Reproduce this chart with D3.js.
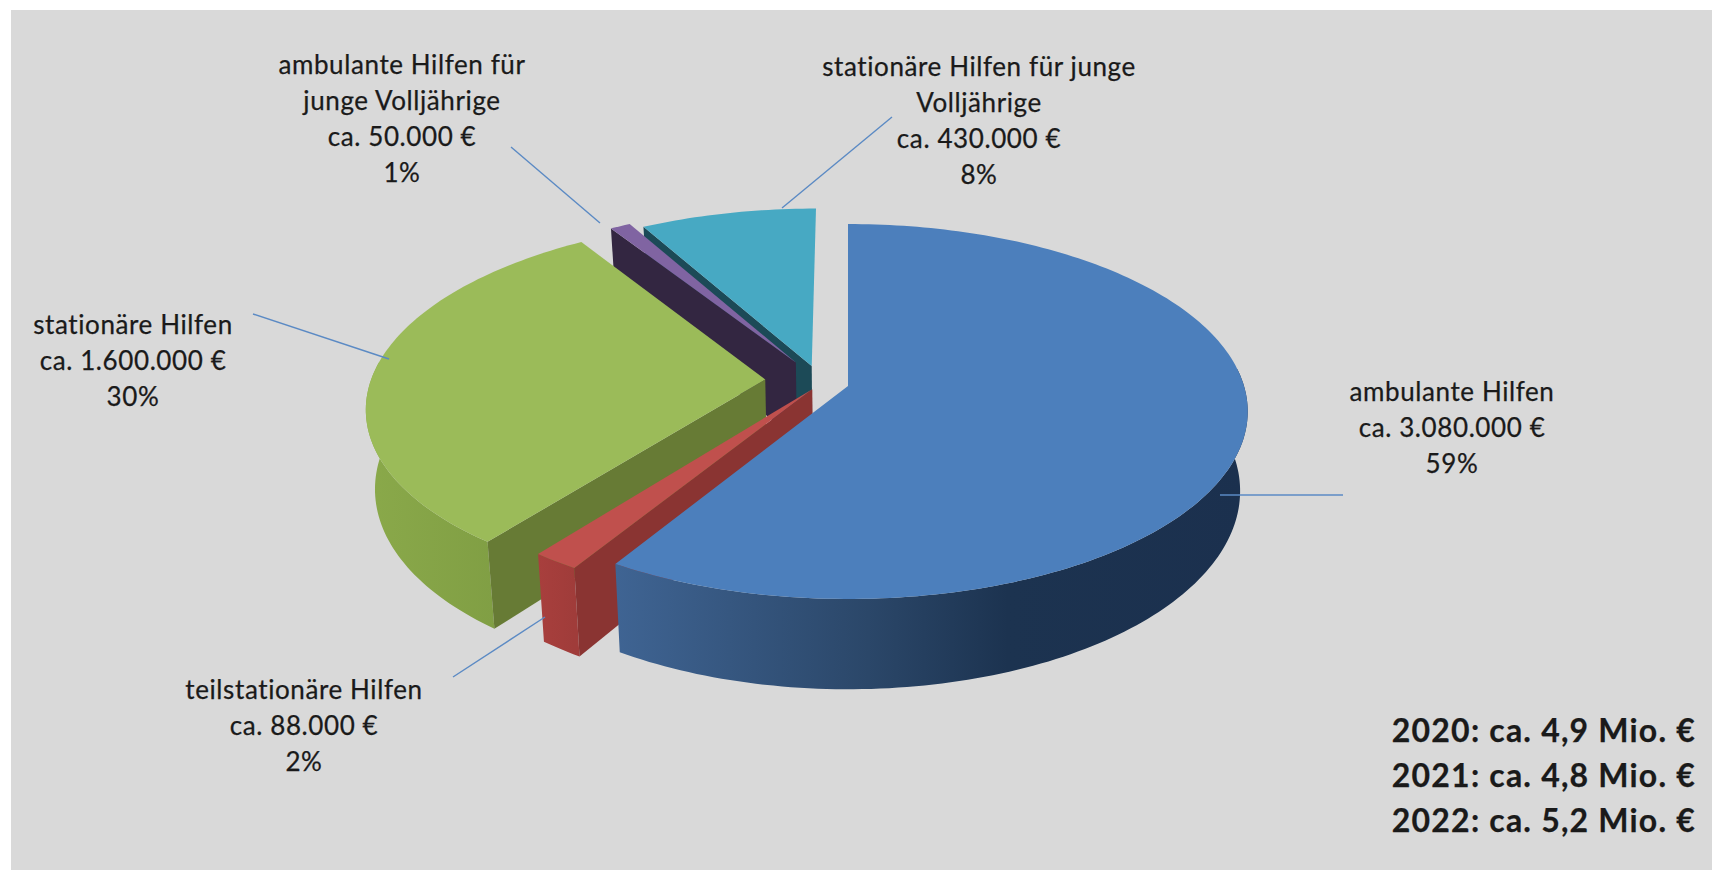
<!DOCTYPE html>
<html lang="de">
<head>
<meta charset="utf-8">
<title>Hilfen 2022</title>
<script src="https://cdn.jsdelivr.net/npm/d3@7/dist/d3.min.js"></script>
<style>
  html, body { margin: 0; padding: 0; background: #fff; }
  svg { display: block; }
  text { font-family: Lato, "Open Sans", sans-serif; fill: #1a1a1a; stroke: #1a1a1a; stroke-width: 0.25px; }
</style>
</head>
<body>
<svg id="chart" width="1712" height="870"></svg>
<script>
// Chart data
const categories = [
  "ambulante Hilfen",
  "teilstationäre Hilfen",
  "stationäre Hilfen",
  "ambulante Hilfen für junge Volljährige",
  "stationäre Hilfen für junge Volljährige"
];
const amounts = [3080000, 88000, 1600000, 50000, 430000];
const amountLabels = ["ca. 3.080.000 €", "ca. 88.000 €", "ca. 1.600.000 €", "ca. 50.000 €", "ca. 430.000 €"];
const shareLabels = ["59%", "2%", "30%", "1%", "8%"];
const categoryLines = [
  ["ambulante Hilfen"],
  ["teilstationäre Hilfen"],
  ["stationäre Hilfen"],
  ["ambulante Hilfen für", "junge Volljährige"],
  ["stationäre Hilfen für junge", "Volljährige"]
];
const yearTotals = ["2020: ca. 4,9 Mio. €", "2021: ca. 4,8 Mio. €", "2022: ca. 5,2 Mio. €"];

// Slice styling
const topColors  = ["#4c7fbc", "#c0504d", "#9bbb59", "#8064a2", "#47a9c3"];
const cutColors  = ["#1c3350", "#8a3432", "#677b35", "#332641", "#1c4a57"];
const rimStops   = [
  [[0, "#3f6493"], [0.4, "#2b4769"], [0.62, "#1c3350"], [1, "#1b304e"]],
  [[0, "#a83f3d"], [1, "#a03c3a"]],
  [[0, "#8aa94a"], [1, "#7a9840"]],
  [[0, "#332641"], [1, "#332641"]],
  [[0, "#1c4a57"], [1, "#1c4a57"]]
];

// Per-slice displacement on the pie's ground plane, in radii
const sliceShift = [[0, 0], [-0.09, 0.017], [-0.21, -0.036], [-0.134, -0.13], [-0.093, -0.11]];

// Camera for the tilted disc: plane (u, v) in radii to screen pixels
const cam = { x: 848, y: 386, fx: 396, fy: 184, k: 0.136, depth: 78, taper: 0.019 };
const topPoint = ([u, v]) => {
  const w = 1 - cam.k * v;
  return [cam.x + cam.fx * u / w, cam.y + cam.fy * v / w];
};
const basePoint = ([u, v]) => {
  const [x, y] = topPoint([u, v]);
  const w = 1 - cam.k * v;
  return [cam.x + (x - cam.x) * (1 - cam.taper), y + cam.depth / w];
};

const svg = d3.select("#chart");
svg.append("rect").attr("x", 11).attr("y", 10).attr("width", 1701).attr("height", 860).attr("fill", "#d9d9d9");

const defs = svg.append("defs");
const path = d3.line();
const arcs = d3.pie().sort(null).value(d => d)(amounts);

const rimPoints = (arc, i) => {
  const [du, dv] = sliceShift[i];
  const n = Math.max(4, Math.ceil((arc.endAngle - arc.startAngle) / 0.02));
  return d3.range(n + 1).map(j => {
    const a = arc.startAngle + (arc.endAngle - arc.startAngle) * j / n;
    return [du + Math.sin(a), dv - Math.cos(a), a];
  });
};

// Gradient across each slice's outer wall, spanning its on-screen width
arcs.forEach((arc, i) => {
  const xs = rimPoints(arc, i).map(p => topPoint(p)[0]);
  const g = defs.append("linearGradient")
    .attr("id", `rim-${i}`)
    .attr("gradientUnits", "userSpaceOnUse")
    .attr("x1", d3.min(xs)).attr("x2", d3.max(xs))
    .attr("y1", 0).attr("y2", 0);
  rimStops[i].forEach(([o, c]) => g.append("stop").attr("offset", o).attr("stop-color", c));
});

// Slices are painted back to front so nearer walls overlap farther ones
const paintOrder = [4, 3, 2, 1, 0];
paintOrder.forEach(i => {
  const arc = arcs[i];
  const rim = rimPoints(arc, i);
  const hub = sliceShift[i];
  const g = svg.append("g").attr("class", "slice").attr("data-name", categories[i]);

  // Only the part of the rim that faces the viewer gets an outer wall
  const frontRim = rim.filter(p => Math.cos(p[2]) < 0.1);
  if (frontRim.length > 1) {
    g.append("path")
      .attr("d", path([...frontRim.map(topPoint), ...frontRim.slice().reverse().map(basePoint)]) + "Z")
      .attr("fill", `url(#rim-${i})`);
  }

  const first = rim[0];
  if (i > 0) {
    g.append("path")
      .attr("d", path([topPoint(hub), topPoint(first), basePoint(first), basePoint(hub)]) + "Z")
      .attr("fill", cutColors[i]);
  }

  g.append("path")
    .attr("d", path([topPoint(hub), ...rim.map(topPoint)]) + "Z")
    .attr("fill", topColors[i]);
});

// Leader lines
const leaders = [
  [[1343, 495], [1220, 495]],
  [[453, 677], [545, 617]],
  [[253, 314], [389, 359]],
  [[511, 147], [600, 223]],
  [[892, 117], [782, 208]]
];
svg.append("g").selectAll("line").data(leaders).join("line")
  .attr("x1", d => d[0][0]).attr("y1", d => d[0][1])
  .attr("x2", d => d[1][0]).attr("y2", d => d[1][1])
  .attr("stroke", "#5b8ac4").attr("stroke-width", 1.4);

// Data labels: name lines, amount, share
const labelAnchors = [[1452, 401], [304, 699], [133, 334], [402, 74], [979, 76]];
const lineGap = 36.1;
categories.forEach((_, i) => {
  const lines = [...categoryLines[i], amountLabels[i], shareLabels[i]];
  svg.append("text")
    .attr("text-anchor", "middle")
    .attr("font-size", 26)
    .attr("letter-spacing", 0.6)
    .selectAll("tspan").data(lines).join("tspan")
    .attr("x", labelAnchors[i][0])
    .attr("y", (d, j) => labelAnchors[i][1] + j * lineGap)
    .text(d => d);
});

// Yearly totals
svg.append("text")
  .attr("text-anchor", "end")
  .attr("font-size", 32)
  .attr("font-weight", 700)
  .attr("letter-spacing", 1.2)
  .selectAll("tspan").data(yearTotals).join("tspan")
  .attr("x", 1696)
  .attr("y", (d, j) => 742 + j * 45)
  .text(d => d);
</script>
</body>
</html>
